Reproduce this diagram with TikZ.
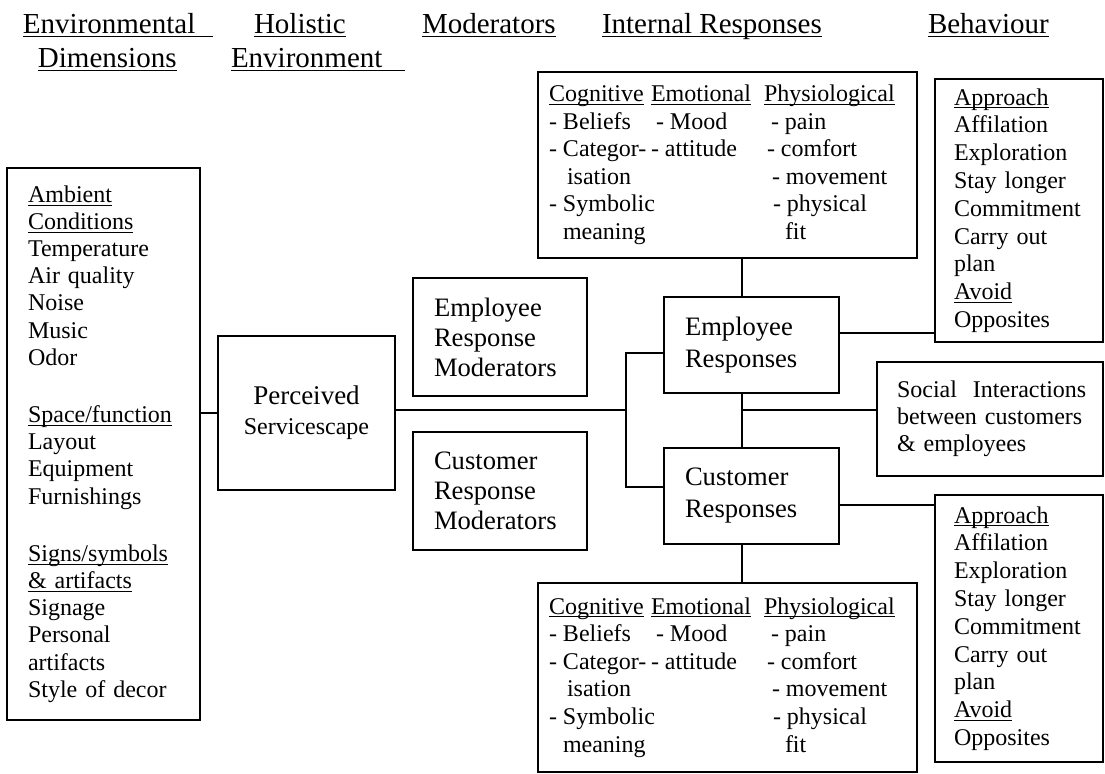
\documentclass[tikz,border=0pt]{standalone}
\usepackage{fontspec}
\usepackage{array}
\setmainfont{Liberation Serif}

\newcommand{\uln}[1]{\underline{\smash{#1}}\vphantom{#1}}
% the three columns of internal responses, used twice
\newcommand{\inresp}{%
\begin{tabular}{@{}w{l}{51pt}@{}w{l}{56.5pt}@{}w{l}{71pt}@{}}
\uln{Cognitive} & \uln{Emotional} & \uln{Physiological}\\
- Beliefs & \hspace{2.5pt}- Mood & \hspace{3.5pt}- pain\\
- Categor- & - attitude & \hspace{1.5pt}- comfort\\
\hspace{9pt}isation & & \hspace{4pt}- movement\\
- Symbolic & & \hspace{4.5pt}- physical\\
\hspace{7pt}meaning & & \hspace{10.5pt}fit
\end{tabular}}

\begin{document}
\begin{tikzpicture}[x=0.5pt,y=-0.5pt,line width=1pt]
        \tikzstyle{box}=[draw,line width=1.1pt,align=left,inner sep=0pt]
        \tikzstyle{head}=[anchor=base west,inner sep=0pt,font=\fontsize{14.5}{17}\selectfont]
        \useasboundingbox (0,0) rectangle (1105,774);

        % column headings
        \node[head] (envA) at (22,34)  {\uln{Environmental\hspace{9pt}}};
        \node[head] (envB) at (37,68)  {\uln{Dimensions}};
        \node[head] (holA) at (253,34) {\uln{Holistic}};
        \node[head] (holB) at (230,68) {\uln{Environment\hspace{11.5pt}}};
        \node[head] (mod)  at (421,34) {\uln{Moderators}};
        \node[head] (int)  at (601,34) {\uln{Internal Responses}};
        \node[head] (beh)  at (927,34) {\uln{Behaviour}};

        % boxes
        \node[box,minimum width=96.5pt,minimum height=276pt,text width=75.5pt,
              font=\fontsize{12}{13.6}\selectfont] (amb) at (103.5,444)
              {\uln{Ambient}\\\uln{Conditions}\\Temperature\\Air quality\\Noise\\Music\\Odor\\[15pt]
               \uln{Space/function}\\Layout\\Equipment\\Furnishings\\[15pt]
               \uln{Signs/symbols}\\\uln{\&\ artifacts}\\Signage\\Personal\\artifacts\\Style of decor};
        \node[box,align=center,minimum width=88.5pt,minimum height=77pt,
              font=\fontsize{12}{15}\selectfont] (perc) at (306.5,413)
              {{\fontsize{13.5}{15}\selectfont Perceived}\\Servicescape};
        \node[box,minimum width=87pt,minimum height=59pt,text width=66pt,
              font=\fontsize{13.3}{15}\selectfont] (erm) at (500,337) {Employee\\Response\\Moderators};
        \node[box,minimum width=87pt,minimum height=59pt,text width=66pt,
              font=\fontsize{13.3}{15}\selectfont] (crm) at (500,491) {Customer\\Response\\Moderators};
        \node[box,minimum width=87.5pt,minimum height=48pt,text width=66.5pt,
              font=\fontsize{13.3}{16}\selectfont] (er) at (751.5,345) {Employee\\Responses};
        \node[box,minimum width=87.5pt,minimum height=48pt,text width=66.5pt,
              font=\fontsize{13.3}{16}\selectfont] (cr) at (751.5,496) {Customer\\Responses};
        \node[box,minimum width=189.5pt,minimum height=93pt,
              font=\fontsize{12}{13.8}\selectfont] (intE) at (727.5,165) {\inresp};
        \node[box,minimum width=189.5pt,minimum height=94.5pt,
              font=\fontsize{12}{13.8}\selectfont] (intC) at (727.5,677.5) {\inresp};
        \node[box,minimum width=84pt,minimum height=131.5pt,text width=65pt,
              font=\fontsize{12}{13.9}\selectfont] (behE) at (1019,210.5)
              {\uln{Approach}\\Affilation\\Exploration\\Stay longer\\Commitment\\Carry out\\plan\\\uln{Avoid}\\Opposites};
        \node[box,minimum width=84pt,minimum height=133.5pt,text width=65pt,
              font=\fontsize{12}{13.9}\selectfont] (behC) at (1019,628.5)
              {\uln{Approach}\\Affilation\\Exploration\\Stay longer\\Commitment\\Carry out\\plan\\\uln{Avoid}\\Opposites};
        \node[box,minimum width=113pt,minimum height=57pt,text width=93pt,
              font=\fontsize{12}{13.5}\selectfont] (soc) at (990,419)
              {\mbox{Social\ \ Interactions}\\between customers\\\&\ employees};

        % connectors
        \coordinate (split) at (626,410);
        \coordinate (spine) at (742,410);
        \draw (amb.east |- perc.west) -- (perc.west);
        \draw (perc.east |- split) -- (split);
        \draw ([yshift=-4pt]er.west) -| (split) |- ([yshift=4.5pt]cr.west);
        \draw (er.north -| spine) -- (intE.south -| spine);
        \draw (er.south -| spine) -- (cr.north -| spine);
        \draw (cr.south -| spine) -- (intC.north -| spine);
        \draw (spine) -- (spine -| soc.west);
        \draw ([yshift=6pt]er.east) -- ([yshift=6pt]er.east -| behE.west);
        \draw ([yshift=-4.5pt]cr.east) -- ([yshift=-4.5pt]cr.east -| behC.west);
\end{tikzpicture}
\end{document}
